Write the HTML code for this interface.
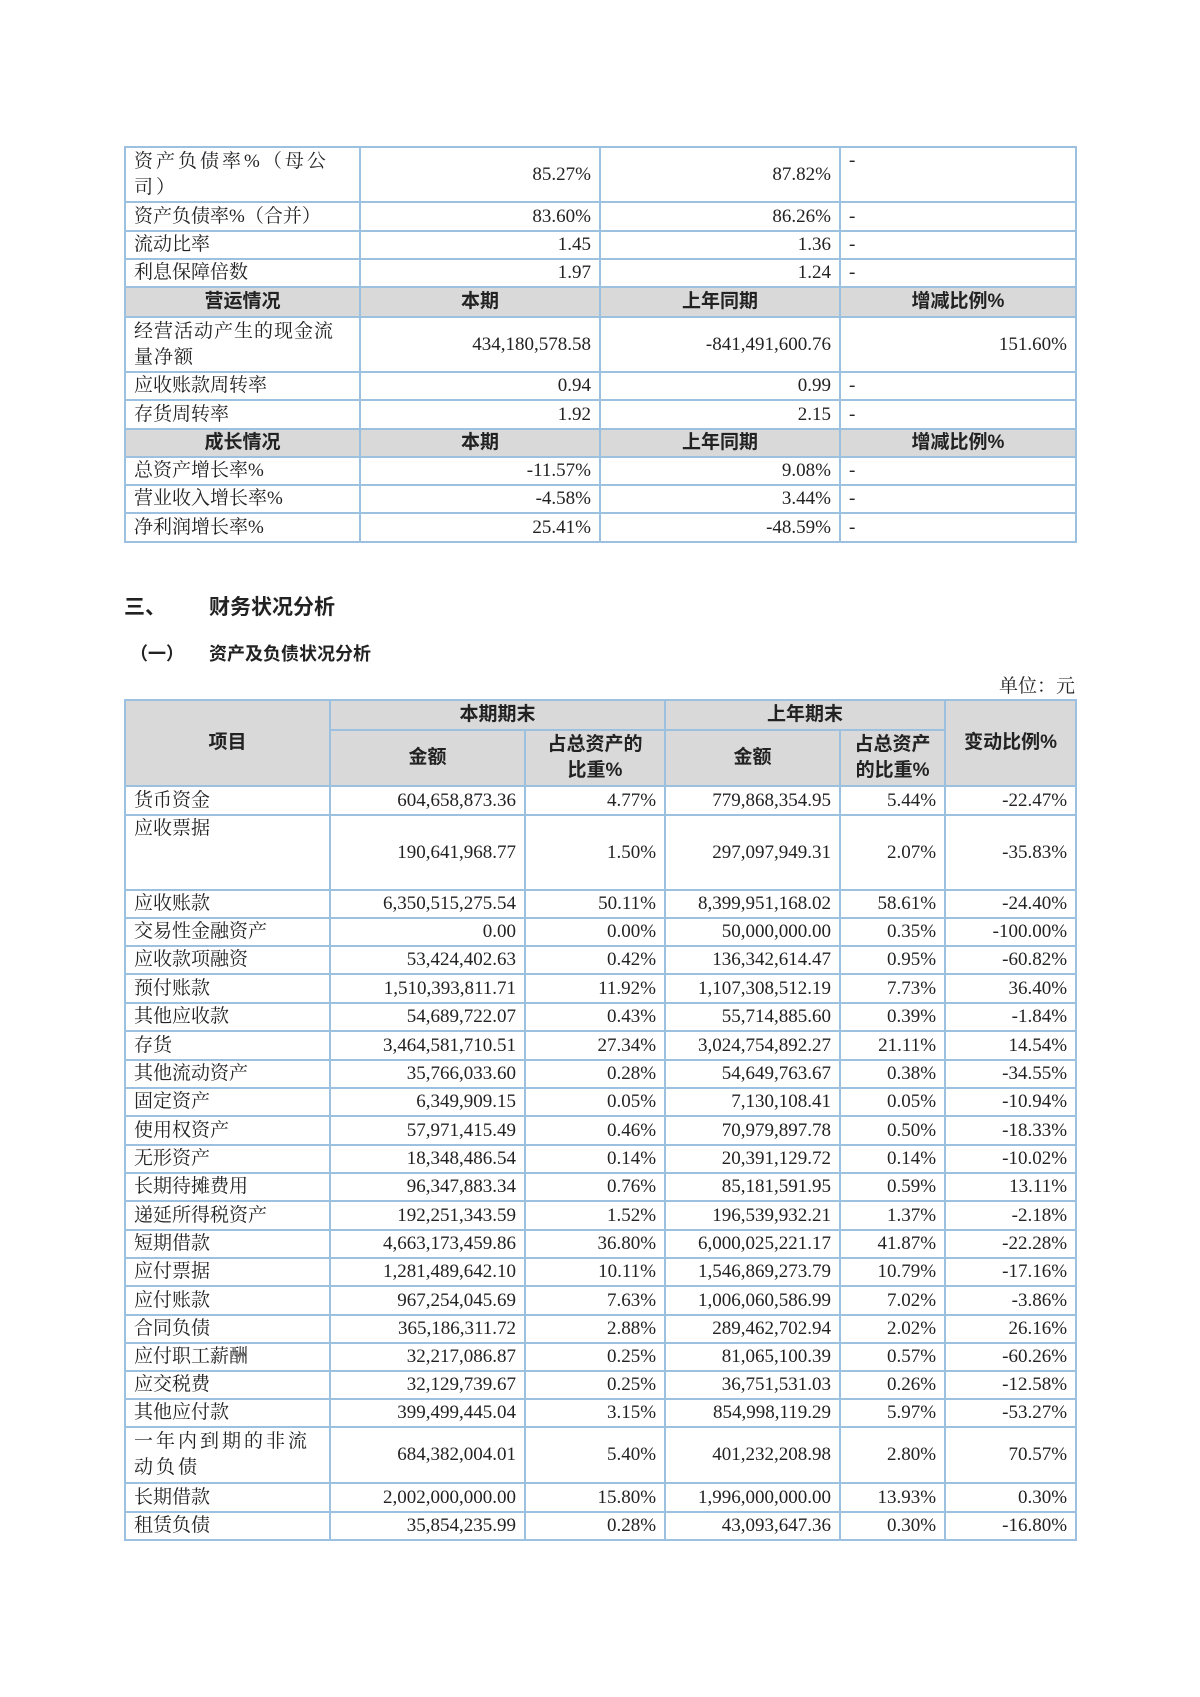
<!DOCTYPE html>
<html><head><meta charset="utf-8"><style>
body{margin:0;width:1200px;height:1697px;background:#fff;position:relative;font-family:"Liberation Serif","Noto Serif CJK SC",serif;color:#222;}
table{position:absolute;left:124px;width:951px;border-collapse:collapse;table-layout:fixed;font-size:19px;}
td{border:2px solid #9cc0e0;padding:0 8px;line-height:26px;vertical-align:middle;overflow:hidden;}
td.r{text-align:right}
td.h{background:#d9d9d9;text-align:center;font-weight:bold;font-family:"Liberation Sans","Noto Sans CJK SC",sans-serif;padding:0 2px;}
.t{position:absolute;font-family:"Liberation Sans","Noto Sans CJK SC",sans-serif;font-weight:bold;}
</style></head><body>
<table style="top:146px">
<colgroup><col style="width:235px"><col style="width:240px"><col style="width:240px"><col style="width:236px"></colgroup>
<tr style="height:55px"><td style="letter-spacing:3px">资产负债率%（母公司）</td><td class="r">85.27%</td><td class="r">87.82%</td><td style="vertical-align:top">-</td></tr>
<tr style="height:29px"><td>资产负债率%（合并）</td><td class="r">83.60%</td><td class="r">86.26%</td><td>-</td></tr>
<tr style="height:28px"><td>流动比率</td><td class="r">1.45</td><td class="r">1.36</td><td>-</td></tr>
<tr style="height:28px"><td>利息保障倍数</td><td class="r">1.97</td><td class="r">1.24</td><td>-</td></tr>
<tr style="height:30px"><td class="h">营运情况</td><td class="h">本期</td><td class="h">上年同期</td><td class="h">增减比例%</td></tr>
<tr style="height:55px"><td style="letter-spacing:1px">经营活动产生的现金流<br>量净额</td><td class="r">434,180,578.58</td><td class="r">-841,491,600.76</td><td class="r">151.60%</td></tr>
<tr style="height:28px"><td>应收账款周转率</td><td class="r">0.94</td><td class="r">0.99</td><td>-</td></tr>
<tr style="height:29px"><td>存货周转率</td><td class="r">1.92</td><td class="r">2.15</td><td>-</td></tr>
<tr style="height:28px"><td class="h">成长情况</td><td class="h">本期</td><td class="h">上年同期</td><td class="h">增减比例%</td></tr>
<tr style="height:28px"><td>总资产增长率%</td><td class="r">-11.57%</td><td class="r">9.08%</td><td>-</td></tr>
<tr style="height:28px"><td>营业收入增长率%</td><td class="r">-4.58%</td><td class="r">3.44%</td><td>-</td></tr>
<tr style="height:29px"><td>净利润增长率%</td><td class="r">25.41%</td><td class="r">-48.59%</td><td>-</td></tr>
</table>
<div class="t" style="left:124px;top:591px;font-size:21px">三、</div>
<div class="t" style="left:209px;top:591px;font-size:21px">财务状况分析</div>
<div class="t" style="left:130px;top:640px;font-size:18px">（一）</div>
<div class="t" style="left:209px;top:640px;font-size:18px">资产及负债状况分析</div>
<div style="position:absolute;right:125px;top:671px;font-size:19px">单位：元</div>
<table style="top:699px">
<colgroup><col style="width:205px"><col style="width:195px"><col style="width:140px"><col style="width:175px"><col style="width:105px"><col style="width:131px"></colgroup>
<tr style="height:30px"><td class="h" rowspan="2">项目</td><td class="h" colspan="2">本期期末</td><td class="h" colspan="2">上年期末</td><td class="h" rowspan="2">变动比例%</td></tr>
<tr style="height:56px"><td class="h">金额</td><td class="h">占总资产的<br>比重%</td><td class="h">金额</td><td class="h">占总资产<br>的比重%</td></tr>
<tr style="height:29px"><td>货币资金</td><td class="r">604,658,873.36</td><td class="r">4.77%</td><td class="r">779,868,354.95</td><td class="r">5.44%</td><td class="r">-22.47%</td></tr>
<tr style="height:75px"><td style="vertical-align:top">应收票据</td><td class="r">190,641,968.77</td><td class="r">1.50%</td><td class="r">297,097,949.31</td><td class="r">2.07%</td><td class="r">-35.83%</td></tr>
<tr style="height:28px"><td>应收账款</td><td class="r">6,350,515,275.54</td><td class="r">50.11%</td><td class="r">8,399,951,168.02</td><td class="r">58.61%</td><td class="r">-24.40%</td></tr>
<tr style="height:28px"><td>交易性金融资产</td><td class="r">0.00</td><td class="r">0.00%</td><td class="r">50,000,000.00</td><td class="r">0.35%</td><td class="r">-100.00%</td></tr>
<tr style="height:28px"><td>应收款项融资</td><td class="r">53,424,402.63</td><td class="r">0.42%</td><td class="r">136,342,614.47</td><td class="r">0.95%</td><td class="r">-60.82%</td></tr>
<tr style="height:29px"><td>预付账款</td><td class="r">1,510,393,811.71</td><td class="r">11.92%</td><td class="r">1,107,308,512.19</td><td class="r">7.73%</td><td class="r">36.40%</td></tr>
<tr style="height:28px"><td>其他应收款</td><td class="r">54,689,722.07</td><td class="r">0.43%</td><td class="r">55,714,885.60</td><td class="r">0.39%</td><td class="r">-1.84%</td></tr>
<tr style="height:29px"><td>存货</td><td class="r">3,464,581,710.51</td><td class="r">27.34%</td><td class="r">3,024,754,892.27</td><td class="r">21.11%</td><td class="r">14.54%</td></tr>
<tr style="height:28px"><td>其他流动资产</td><td class="r">35,766,033.60</td><td class="r">0.28%</td><td class="r">54,649,763.67</td><td class="r">0.38%</td><td class="r">-34.55%</td></tr>
<tr style="height:28px"><td>固定资产</td><td class="r">6,349,909.15</td><td class="r">0.05%</td><td class="r">7,130,108.41</td><td class="r">0.05%</td><td class="r">-10.94%</td></tr>
<tr style="height:29px"><td>使用权资产</td><td class="r">57,971,415.49</td><td class="r">0.46%</td><td class="r">70,979,897.78</td><td class="r">0.50%</td><td class="r">-18.33%</td></tr>
<tr style="height:28px"><td>无形资产</td><td class="r">18,348,486.54</td><td class="r">0.14%</td><td class="r">20,391,129.72</td><td class="r">0.14%</td><td class="r">-10.02%</td></tr>
<tr style="height:28px"><td>长期待摊费用</td><td class="r">96,347,883.34</td><td class="r">0.76%</td><td class="r">85,181,591.95</td><td class="r">0.59%</td><td class="r">13.11%</td></tr>
<tr style="height:29px"><td>递延所得税资产</td><td class="r">192,251,343.59</td><td class="r">1.52%</td><td class="r">196,539,932.21</td><td class="r">1.37%</td><td class="r">-2.18%</td></tr>
<tr style="height:28px"><td>短期借款</td><td class="r">4,663,173,459.86</td><td class="r">36.80%</td><td class="r">6,000,025,221.17</td><td class="r">41.87%</td><td class="r">-22.28%</td></tr>
<tr style="height:28px"><td>应付票据</td><td class="r">1,281,489,642.10</td><td class="r">10.11%</td><td class="r">1,546,869,273.79</td><td class="r">10.79%</td><td class="r">-17.16%</td></tr>
<tr style="height:29px"><td>应付账款</td><td class="r">967,254,045.69</td><td class="r">7.63%</td><td class="r">1,006,060,586.99</td><td class="r">7.02%</td><td class="r">-3.86%</td></tr>
<tr style="height:28px"><td>合同负债</td><td class="r">365,186,311.72</td><td class="r">2.88%</td><td class="r">289,462,702.94</td><td class="r">2.02%</td><td class="r">26.16%</td></tr>
<tr style="height:28px"><td>应付职工薪酬</td><td class="r">32,217,086.87</td><td class="r">0.25%</td><td class="r">81,065,100.39</td><td class="r">0.57%</td><td class="r">-60.26%</td></tr>
<tr style="height:28px"><td>应交税费</td><td class="r">32,129,739.67</td><td class="r">0.25%</td><td class="r">36,751,531.03</td><td class="r">0.26%</td><td class="r">-12.58%</td></tr>
<tr style="height:28px"><td>其他应付款</td><td class="r">399,499,445.04</td><td class="r">3.15%</td><td class="r">854,998,119.29</td><td class="r">5.97%</td><td class="r">-53.27%</td></tr>
<tr style="height:56px"><td style="letter-spacing:3px">一年内到期的非流动负债</td><td class="r">684,382,004.01</td><td class="r">5.40%</td><td class="r">401,232,208.98</td><td class="r">2.80%</td><td class="r">70.57%</td></tr>
<tr style="height:29px"><td>长期借款</td><td class="r">2,002,000,000.00</td><td class="r">15.80%</td><td class="r">1,996,000,000.00</td><td class="r">13.93%</td><td class="r">0.30%</td></tr>
<tr style="height:28px"><td>租赁负债</td><td class="r">35,854,235.99</td><td class="r">0.28%</td><td class="r">43,093,647.36</td><td class="r">0.30%</td><td class="r">-16.80%</td></tr>
</table>
</body></html>
